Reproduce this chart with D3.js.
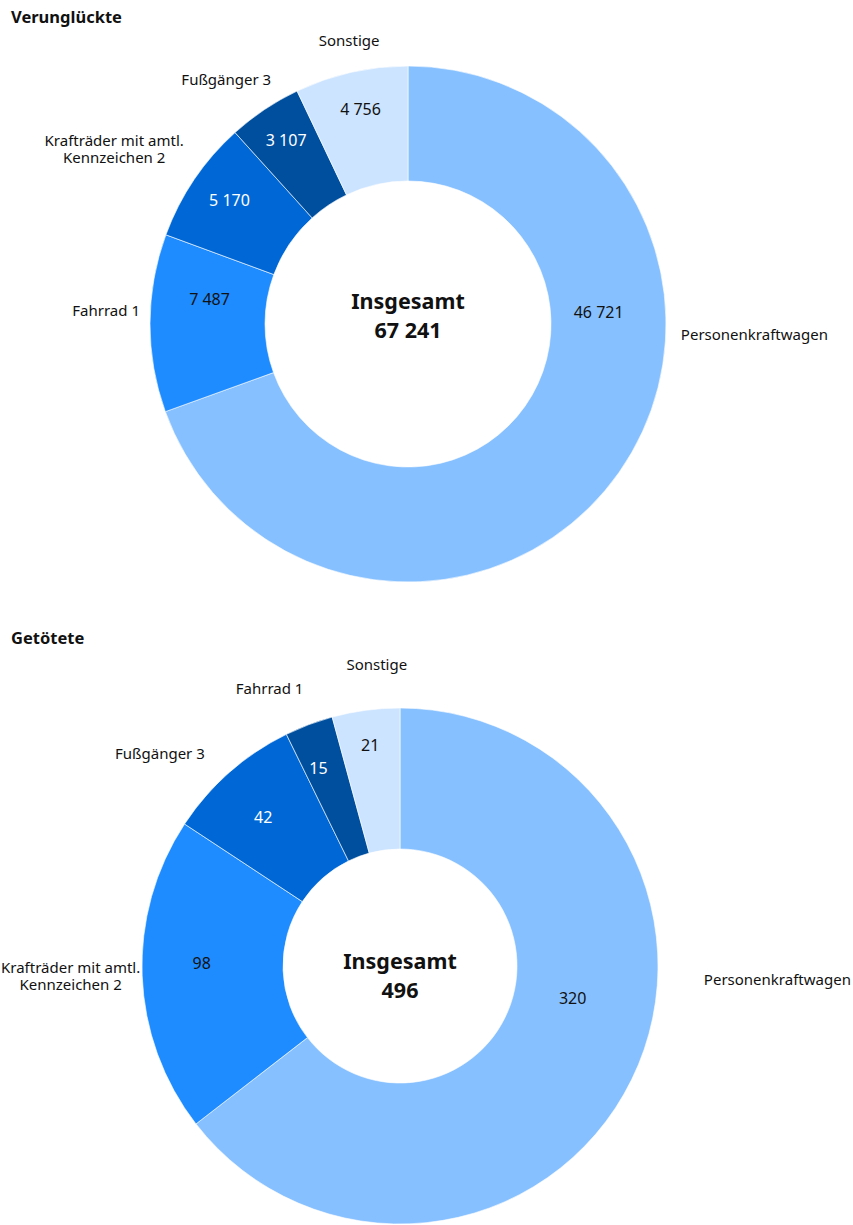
<!DOCTYPE html>
<html>
<head>
<meta charset="utf-8">
<script src="https://cdn.jsdelivr.net/npm/d3@7"></script>
<style>
  body { margin: 0; background: #fff; }
  svg { font-family: "Noto Sans", sans-serif; }
</style>
</head>
<body>
<div id="chart"></div>
<script>
// Verunglückte
const injuredCats = ["Personenkraftwagen", "Fahrrad 1", "Krafträder mit amtl.|Kennzeichen 2", "Fußgänger 3", "Sonstige"];
const injuredVals = [46721, 7487, 5170, 3107, 4756];
// Getötete
const killedCats = ["Personenkraftwagen", "Krafträder mit amtl.|Kennzeichen 2", "Fußgänger 3", "Fahrrad 1", "Sonstige"];
const killedVals = [320, 98, 42, 15, 21];

const sliceColors = ["#87c0ff", "#1e8cff", "#0068d6", "#004f9e", "#cce4ff"];
const labelColors = ["#111", "#111", "#fff", "#fff", "#111"];

const width = 853, height = 1225;
const de = d3.formatLocale({ decimal: ",", thousands: "\u00a0", grouping: [3], currency: ["", " €"] });
const fmt = de.format(",d");

const svg = d3.select("#chart").append("svg")
  .attr("width", width)
  .attr("height", height);

function donut(opts) {
  const { title, titleY, cats, vals, cx, cy, inner, outer, totalY, valNudge, catNudge } = opts;

  svg.append("text")
    .attr("x", 11).attr("y", titleY)
    .attr("font-size", 16.5).attr("font-weight", "bold")
    .attr("fill", "#111")
    .text(title);

  const g = svg.append("g").attr("transform", `translate(${cx},${cy})`);
  const pie = d3.pie().sort(null).value(d => d.value);
  const arcs = pie(cats.map((c, i) => ({ cat: c, value: vals[i], i })));
  const arc = d3.arc().innerRadius(inner).outerRadius(outer);

  g.selectAll("path.slice")
    .data(arcs)
    .join("path")
    .attr("class", "slice")
    .attr("d", arc)
    .attr("fill", d => sliceColors[d.data.i])
    .attr("stroke", "#fff")
    .attr("stroke-width", 0.6);

  // the big first slice gets its labels near 3 o'clock, like the original
  const labelAngle = (d, cap) => {
    const mid = (d.startAngle + d.endAngle) / 2;
    return d.startAngle === 0 ? Math.min(mid, cap) : mid;
  };

  const valR = (inner + outer) / 2 + 15;
  g.selectAll("text.val")
    .data(arcs)
    .join("text")
    .attr("class", "val")
    .attr("x", d => valR * Math.sin(labelAngle(d, 1.66)) + valNudge[d.index][0])
    .attr("y", d => -valR * Math.cos(labelAngle(d, 1.66)) + valNudge[d.index][1])
    .attr("dy", "0.35em")
    .attr("text-anchor", "middle")
    .attr("font-size", 16)
    .attr("fill", d => labelColors[d.data.i])
    .text(d => fmt(d.data.value));

  // category labels outside the ring
  const catR = outer + 15;
  const lineH = 17;
  const cat = g.selectAll("g.cat")
    .data(arcs)
    .join("g")
    .attr("class", "cat");
  cat.each(function(d) {
    const a = labelAngle(d, 1.6);
    const lines = d.data.cat.split("|");
    const t = d3.select(this).append("text")
      .attr("font-size", 15)
      .attr("fill", "#111")
      .attr("text-anchor", "middle");
    lines.forEach((ln, k) => {
      t.append("tspan").attr("x", 0).attr("dy", k === 0 ? 0 : lineH).text(ln);
    });
    const bb = t.node().getBBox();
    const px = catR * Math.sin(a), py = -catR * Math.cos(a);
    const ccx = px + (bb.width / 2) * Math.sin(a) + catNudge[d.index][0];
    const ccy = py - (bb.height / 2) * Math.cos(a) + catNudge[d.index][1];
    // shift so the box centre sits at (ccx, ccy)
    t.attr("transform", `translate(${ccx - (bb.x + bb.width / 2)},${ccy - (bb.y + bb.height / 2)})`);
  });

  const total = d3.sum(vals);
  g.append("text")
    .attr("text-anchor", "middle")
    .attr("y", totalY)
    .attr("dy", "0.35em")
    .attr("font-size", 21.5).attr("font-weight", "bold")
    .attr("fill", "#111")
    .text("Insgesamt");
  g.append("text")
    .attr("text-anchor", "middle")
    .attr("y", totalY + 29)
    .attr("dy", "0.35em")
    .attr("font-size", 21.5).attr("font-weight", "bold")
    .attr("fill", "#111")
    .text(fmt(total));
}

donut({ title: "Verunglückte", titleY: 23, cats: injuredCats, vals: injuredVals,
        cx: 408, cy: 324, inner: 143, outer: 258, totalY: -23,
        valNudge: [[-24, -31], [17, -24], [0, -3], [-2, -4], [0, -4]],
        catNudge: [[0, 2], [5, -13], [-10, -12], [-5, -10], [8, -8]] });
donut({ title: "Getötete", titleY: 644, cats: killedCats, vals: killedVals,
        cx: 400, cy: 966, inner: 117, outer: 258, totalY: -5,
        valNudge: [[-29, 14], [4, -10], [-3, 3], [-10, -8], [-3, -20]],
        catNudge: [[31, 5], [13, -2], [-30, -1], [-22, -13], [17, -21]] });
</script>
</body>
</html>
